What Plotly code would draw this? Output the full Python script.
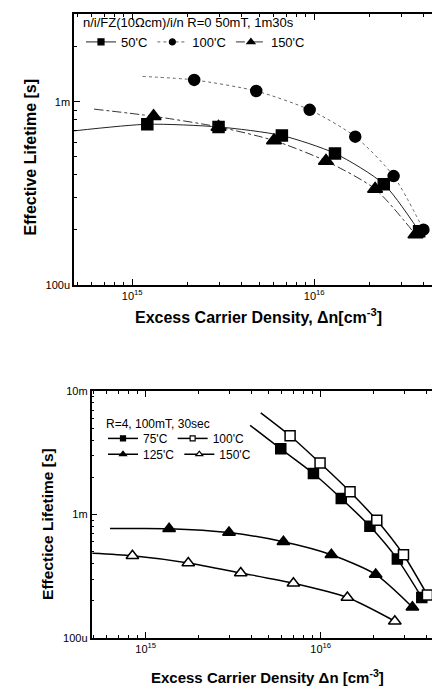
import plotly.graph_objects as go

FONT = "Liberation Sans, Arial, sans-serif"

# ---------------- data: top panel (R=0, 50mT, 1m30s) ----------------
top_50_x = [1.21e15, 2.98e15, 6.64e15, 1.30e16, 2.41e16, 3.77e16]
top_50_y = [7.55e-4, 7.30e-4, 6.55e-4, 5.23e-4, 3.55e-4, 1.96e-4]
top_50_start = (4.8e14, 6.95e-4)

top_100_x = [2.19e15, 4.80e15, 9.44e15, 1.68e16, 2.73e16, 3.98e16]
top_100_y = [1.32e-3, 1.148e-3, 9.06e-4, 6.46e-4, 3.93e-4, 2.00e-4]
top_100_start = (1.14e15, 1.38e-3)

top_150_x = [1.31e15, 2.98e15, 6.01e15, 1.16e16, 2.16e16, 3.60e16]
top_150_y = [8.35e-4, 7.30e-4, 6.15e-4, 4.75e-4, 3.34e-4, 1.88e-4]
top_150_start = (6.17e14, 9.14e-4)

# ---------------- data: bottom panel (R=4, 100mT, 30sec) ----------------
bot_75_x = [5.91e15, 9.08e15, 1.31e16, 1.91e16, 2.74e16, 3.78e16]
bot_75_y = [3.40e-3, 2.15e-3, 1.35e-3, 8.03e-4, 4.36e-4, 2.13e-4]
bot_75_start = (3.95e15, 5.27e-3)

bot_100_x = [6.68e15, 9.91e15, 1.47e16, 2.09e16, 2.97e16, 4.07e16]
bot_100_y = [4.34e-3, 2.61e-3, 1.53e-3, 8.98e-4, 4.73e-4, 2.23e-4]
bot_100_start = (4.54e15, 6.65e-3)

bot_125_x = [1.36e15, 2.99e15, 6.12e15, 1.15e16, 2.06e16, 3.34e16]
bot_125_y = [7.69e-4, 7.15e-4, 6.03e-4, 4.73e-4, 3.28e-4, 1.78e-4]
bot_125_start = (6.25e14, 7.7e-4)

bot_150_x = [8.39e14, 1.75e15, 3.49e15, 6.98e15, 1.42e16, 2.65e16]
bot_150_y = [4.64e-4, 4.06e-4, 3.37e-4, 2.78e-4, 2.13e-4, 1.37e-4]
bot_150_start = (4.95e14, 4.86e-4)

# tick labels
x_major = [1e15, 1e16]
x_major_text = ["10<sup>15</sup>", "10<sup>16</sup>"]
y_major = [1e-4, 1e-3, 1e-2]
y_major_text = ["100u", "1m", "10m"]

# the page body has an 8px margin, so the figure is 8px smaller than the window
OFF = 8
W, H = 432, 683
fig = go.Figure()


def add_series(xs, ys, start, xa, ya, name, legend, symbol, msize, mfill,
               dash, lcolor, lw, lg_msize):
    fig.add_trace(go.Scatter(
        x=[start[0]] + xs, y=[start[1]] + ys, mode="lines",
        line=dict(shape="spline", smoothing=0.7, dash=dash, color=lcolor, width=lw),
        xaxis=xa, yaxis=ya, showlegend=False, hoverinfo="skip"))
    fig.add_trace(go.Scatter(
        x=xs, y=ys, mode="markers",
        marker=dict(symbol=symbol, size=msize, color=mfill,
                    line=dict(color="black", width=1.5)),
        xaxis=xa, yaxis=ya, showlegend=False))
    fig.add_trace(go.Scatter(
        x=[None], y=[None], mode="lines+markers", name=name, legend=legend,
        marker=dict(symbol=symbol, size=lg_msize, color=mfill,
                    line=dict(color="black", width=1.2)),
        line=dict(dash=dash, color=lcolor, width=lw),
        xaxis=xa, yaxis=ya))


# top panel
add_series(top_50_x, top_50_y, top_50_start, "x", "y", "50'C", "legend",
           "square", 11, "black", "solid", "#222", 1, 6)
add_series(top_100_x, top_100_y, top_100_start, "x", "y", "100'C", "legend",
           "circle", 11, "black", "dot", "#666", 1, 6)
add_series(top_150_x, top_150_y, top_150_start, "x", "y", "150'C", "legend",
           "triangle-up", 13, "black", "dashdot", "#333", 1, 7)

# bottom panel
add_series(bot_75_x, bot_75_y, bot_75_start, "x2", "y2", "75'C", "legend2",
           "square", 10, "black", "solid", "black", 1.5, 5)
add_series(bot_100_x, bot_100_y, bot_100_start, "x2", "y2", "100'C", "legend2",
           "square", 10, "white", "solid", "black", 1.5, 5)
add_series(bot_125_x, bot_125_y, bot_125_start, "x2", "y2", "125'C", "legend3",
           "triangle-up", 11, "black", "solid", "black", 1.5, 6)
add_series(bot_150_x, bot_150_y, bot_150_start, "x2", "y2", "150'C", "legend3",
           "triangle-up", 11, "white", "solid", "black", 1.5, 6)


def minor_vals(lo, hi):
    out = []
    for e in range(lo, hi + 1):
        for k in range(2, 10):
            out.append(k * 10.0 ** e)
    return out


def px_x(p):
    return (p - OFF) / W


def px_y(p):
    return 1 - (p - OFF) / H


tick_font = dict(family=FONT, size=11, color="black")
axis_common = dict(
    type="log", showgrid=False, zeroline=False, showline=True, linewidth=1.5,
    linecolor="black", mirror="ticks", ticks="inside", ticklen=6, tickwidth=1.2,
    tickcolor="black", tickfont=tick_font,
)

fig.update_layout(
    width=W, height=H, margin=dict(l=0, r=0, t=0, b=0),
    paper_bgcolor="white", plot_bgcolor="white", showlegend=True,
    xaxis=dict(axis_common, domain=[px_x(74), px_x(438)], range=[14.68, 16.68],
               anchor="y", tickvals=x_major, ticktext=x_major_text,
               minor=dict(tickvals=minor_vals(14, 16), ticks="inside", ticklen=3,
                          tickcolor="black")),
    yaxis=dict(axis_common, domain=[px_y(283.5), px_y(8.3)], range=[-4, -2.52],
               anchor="x", tickvals=y_major, ticktext=y_major_text,
               minor=dict(tickvals=minor_vals(-4, -3), ticks="inside", ticklen=3,
                          tickcolor="black")),
    xaxis2=dict(axis_common, domain=[px_x(91.5), px_x(438)], range=[14.69, 16.67],
                anchor="y2", tickvals=x_major, ticktext=x_major_text,
                minor=dict(tickvals=minor_vals(14, 16), ticks="inside", ticklen=3,
                           tickcolor="black")),
    yaxis2=dict(axis_common, domain=[px_y(643.3), px_y(391.7)], range=[-4, -2],
                anchor="x2", tickvals=y_major, ticktext=y_major_text,
                minor=dict(tickvals=minor_vals(-4, -3), ticks="inside", ticklen=3,
                           tickcolor="black")),
    legend=dict(orientation="h", x=px_x(81), y=px_y(4), xanchor="left", yanchor="top",
                bgcolor="rgba(0,0,0,0)", font=dict(family=FONT, size=13, color="black"),
                title=dict(text="n/i/FZ(10Ωcm)/i/n R=0 50mT, 1m30s", side="top",
                           font=dict(family=FONT, size=13, color="black")),
                itemwidth=30, tracegroupgap=0),
    legend2=dict(orientation="h", x=px_x(103), y=px_y(440), xanchor="left", yanchor="middle",
                 bgcolor="rgba(0,0,0,0)", font=dict(family=FONT, size=12, color="black"),
                 itemwidth=30),
    legend3=dict(orientation="h", x=px_x(103), y=px_y(456), xanchor="left", yanchor="middle",
                 bgcolor="rgba(0,0,0,0)", font=dict(family=FONT, size=12, color="black"),
                 itemwidth=30),
)

# legend heading of the bottom panel
fig.add_annotation(text="R=4, 100mT, 30sec", xref="paper", yref="paper",
                   x=px_x(104), y=px_y(425), showarrow=False,
                   font=dict(family=FONT, size=12, color="black"),
                   xanchor="left", yanchor="middle")

fig.add_annotation(text="<b>Effective Lifetime [s]</b>", xref="paper", yref="paper",
                   x=px_x(30), y=px_y(154), textangle=-90, showarrow=False,
                   font=dict(family=FONT, size=16, color="black"),
                   xanchor="center", yanchor="middle")
fig.add_annotation(text="<b>Excess Carrier Density, Δn[cm<sup>-3</sup>]</b>",
                   xref="paper", yref="paper", x=px_x(258), y=px_y(315),
                   showarrow=False, font=dict(family=FONT, size=16, color="black"),
                   xanchor="center", yanchor="middle")
fig.add_annotation(text="<b>Effectice Lifetime [s]</b>", xref="paper", yref="paper",
                   x=px_x(48), y=px_y(527), textangle=-90, showarrow=False,
                   font=dict(family=FONT, size=15.5, color="black"),
                   xanchor="center", yanchor="middle")
fig.add_annotation(text="<b>Excess Carrier Density Δn [cm<sup>-3</sup>]</b>",
                   xref="paper", yref="paper", x=px_x(267), y=px_y(682),
                   showarrow=False, font=dict(family=FONT, size=15, color="black"),
                   xanchor="center", yanchor="middle")

fig.write_html("out.html")
